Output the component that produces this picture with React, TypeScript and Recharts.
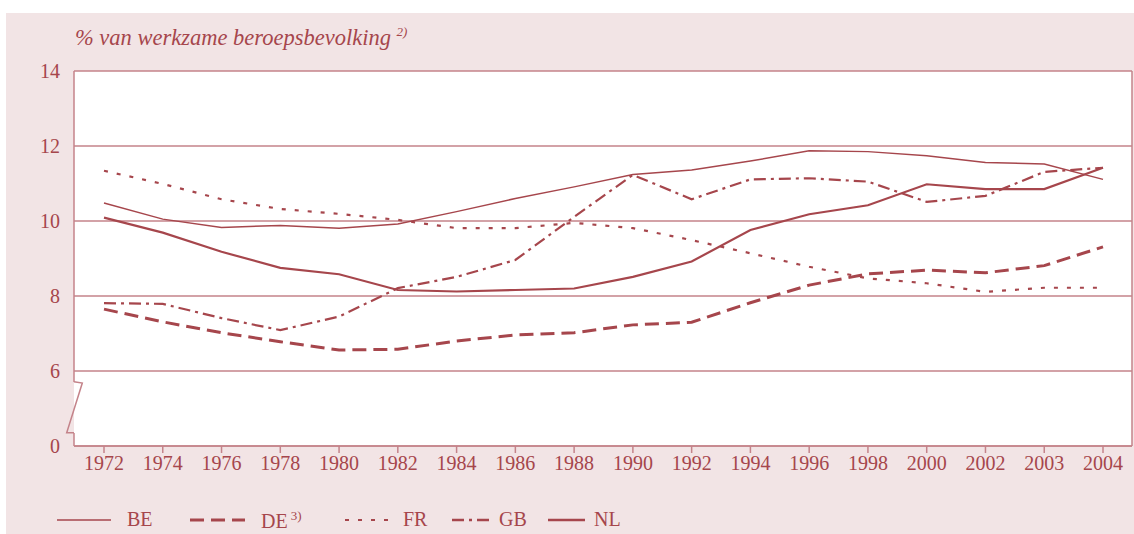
import { LineChart, Line, XAxis, YAxis, CartesianGrid } from "recharts";

const years = ["1972", "1974", "1976", "1978", "1980", "1982", "1984", "1986", "1988", "1990", "1992", "1994", "1996", "1998", "2000", "2002", "2003", "2004"];
const be = [10.48, 10.05, 9.83, 9.88, 9.81, 9.92, 10.25, 10.6, 10.91, 11.24, 11.36, 11.6, 11.87, 11.85, 11.74, 11.56, 11.52, 11.11];
const de = [7.65, 7.31, 7.02, 6.78, 6.56, 6.58, 6.8, 6.96, 7.02, 7.23, 7.3, 7.82, 8.29, 8.59, 8.69, 8.62, 8.81, 9.31];
const fr = [11.34, 10.99, 10.58, 10.32, 10.19, 10.03, 9.81, 9.81, 9.95, 9.81, 9.49, 9.14, 8.78, 8.47, 8.34, 8.11, 8.22, 8.22];
const gb = [7.81, 7.79, 7.41, 7.09, 7.45, 8.21, 8.51, 8.96, 10.11, 11.23, 10.58, 11.11, 11.14, 11.05, 10.51, 10.67, 11.31, 11.42];
const nl = [10.09, 9.69, 9.18, 8.75, 8.58, 8.16, 8.12, 8.16, 8.2, 8.51, 8.92, 9.76, 10.18, 10.42, 10.98, 10.85, 10.85, 11.42];
// the axis is broken: position 4 is labelled "0"
const yTicks = [4, 6, 8, 10, 12, 14];

const data = years.map((year, i) => ({ year, BE: be[i], DE: de[i], FR: fr[i], GB: gb[i], NL: nl[i] }));

const LINE = "#a6464c";
const GRID = "#c4838a";
const PINK = "#f2e4e5";
const FONT = "'Liberation Serif', serif";

function YTick(props: any) {
  const { x, y, payload } = props;
  const ax = x + 14;
  const isBreak = payload.value === 4;
  return (
    <g>
      {isBreak && (
        <g>
          <rect x={ax - 2} y={y - 64} width={2} height={51} fill={PINK} />
          <rect x={ax} y={y - 64} width={1.5} height={51} fill="#fff" />
          <path
            d={`M${ax},${y - 64.3} L${ax + 8.3},${y - 63} L${ax - 7.3},${y - 13.3} L${ax},${y - 13.3}`}
            fill="none"
            stroke={GRID}
            strokeWidth={1.5}
          />
        </g>
      )}
      <text x={x} y={y} dy="0.35em" textAnchor="end" fill={LINE} fontSize={20} fontFamily={FONT}>
        {isBreak ? "0" : String(payload.value)}
      </text>
    </g>
  );
}

const legendItems = [
  { name: "BE", sup: "", left: 57, w: 54, dash: "", sw: 1.5, gap: 16 },
  { name: "DE", sup: "3)", left: 190, w: 55, dash: "14 7", sw: 3, gap: 16 },
  { name: "FR", sup: "", left: 345, w: 52, dash: "4 9", sw: 2.2, gap: 6 },
  { name: "GB", sup: "", left: 452, w: 38, dash: "12 5 3 5", sw: 2.5, gap: 9 },
  { name: "NL", sup: "", left: 548, w: 37, dash: "", sw: 2.5, gap: 9 },
];

export default function App() {
  return (
    <div style={{ position: "relative", width: 1134, height: 534, background: "#fff", fontFamily: FONT }}>
      <style>{`body{margin:0}`}</style>
      <div style={{ position: "absolute", left: 6, top: 13, right: 0, bottom: 0, background: PINK }} />
      <div
        style={{
          position: "absolute",
          left: 75,
          top: 24,
          color: LINE,
          fontStyle: "italic",
          fontSize: 22.5,
          whiteSpace: "nowrap",
        }}
      >
        % van werkzame beroepsbevolking <sup style={{ fontSize: 13 }}>2)</sup>
      </div>
      <div style={{ position: "absolute", left: 0, top: 0 }}>
        <LineChart width={1134} height={534} data={data} margin={{ top: 71, right: 2, left: 14, bottom: 58 }}>
          <CartesianGrid
            fill="#fff"
            stroke={GRID}
            strokeWidth={1.5}
            vertical={true}
            verticalCoordinatesGenerator={({ offset }: any) => [offset.left + offset.width]}
          />
          <XAxis
            dataKey="year"
            interval={0}
            height={30}
            padding={{ left: 30, right: 29 }}
            stroke={GRID}
            axisLine={{ stroke: GRID, strokeWidth: 1.5 }}
            tickLine={{ stroke: GRID, strokeWidth: 1.5 }}
            tickSize={7}
            tickMargin={3}
            tick={{ fill: LINE, fontSize: 20, fontFamily: FONT }}
          />
          <YAxis
            type="number"
            domain={[4, 14]}
            ticks={yTicks}
            interval={0}
            width={60}
            axisLine={{ stroke: GRID, strokeWidth: 1.5 }}
            tickLine={false}
            tickSize={0}
            tickMargin={14}
            tick={<YTick />}
          />
          <Line dataKey="BE" stroke={LINE} strokeWidth={1.5} dot={false} isAnimationActive={false} />
          <Line dataKey="DE" stroke={LINE} strokeWidth={3} strokeDasharray="14 7" dot={false} isAnimationActive={false} />
          <Line dataKey="FR" stroke={LINE} strokeWidth={2.2} strokeDasharray="4 9" dot={false} isAnimationActive={false} />
          <Line dataKey="GB" stroke={LINE} strokeWidth={2.2} strokeDasharray="12 5 3 5" dot={false} isAnimationActive={false} />
          <Line dataKey="NL" stroke={LINE} strokeWidth={2.2} dot={false} isAnimationActive={false} />
        </LineChart>
      </div>
      {legendItems.map((it) => (
        <div key={it.name} style={{ position: "absolute", left: it.left, top: 508, display: "flex", alignItems: "center", color: LINE, fontSize: 20 }}>
          <svg width={it.w} height={12} style={{ display: "block" }}>
            <line x1={0} y1={6} x2={it.w} y2={6} stroke={LINE} strokeWidth={it.sw} strokeDasharray={it.dash || undefined} />
          </svg>
          <span style={{ marginLeft: it.gap, whiteSpace: "nowrap" }}>
            {it.name}
            {it.sup && <sup style={{ fontSize: 13, marginLeft: 3 }}>{it.sup}</sup>}
          </span>
        </div>
      ))}
    </div>
  );
}
